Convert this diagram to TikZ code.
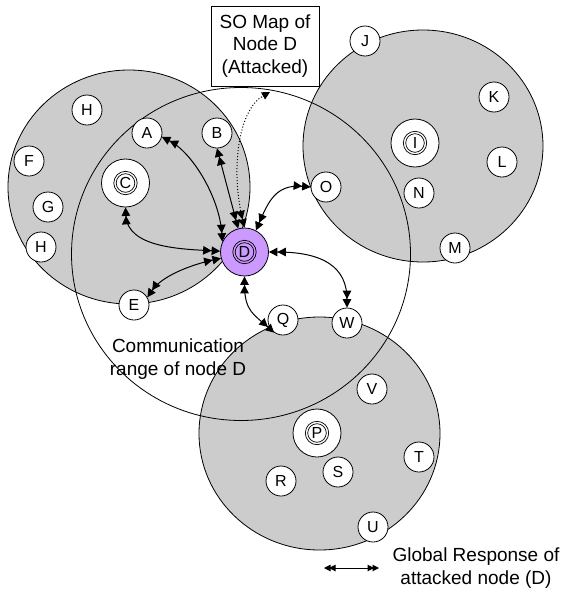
\documentclass[tikz,border=0pt]{standalone}
\usepackage{fontspec}
\setmainfont{Liberation Sans}
\usetikzlibrary{arrows.meta}
\definecolor{zone}{HTML}{CCCCCC}
\definecolor{attacked}{HTML}{CC99FF}
\tikzset{
  dtip/.tip={Triangle[length=8.5pt,width=8.5pt]Triangle[length=8.5pt,width=8.5pt]},
  stip/.tip={Triangle[length=8pt,width=8pt]},
  ltip/.tip={Triangle[length=6.5pt,width=6.5pt,sep=-1.5pt]Triangle[length=6.5pt,width=6.5pt]},
  zonecircle/.style={draw=black, line width=0.8pt, fill=zone},
  rangecircle/.style={draw=black, line width=0.8pt},
  sensor/.style={circle, draw=black, line width=0.8pt, fill=white, minimum size=30pt, inner sep=0pt, font=\fontsize{16}{16}\selectfont},
  headnode/.style={circle, draw=black, line width=0.8pt, fill=white, minimum size=48pt, inner sep=0pt, font=\fontsize{16}{16}\selectfont},
  attackednode/.style={headnode, fill=attacked},
  ring/.style={draw=black, line width=0.7pt},
  link/.style={line width=1pt, dtip-dtip},
  maplink/.style={line width=1pt, dotted, dtip-stip},
  legendlink/.style={line width=1pt, ltip-ltip},
  textlabel/.style={align=center, inner sep=0pt, font=\fontsize{19}{23}\selectfont},
  mapbox/.style={draw=black, fill=white, line width=0.8pt, minimum width=108pt, minimum height=80pt, inner sep=0pt, align=center, font=\fontsize{19}{22.5}\selectfont},
}
\begin{document}
\begin{tikzpicture}[x=1pt,y=-1pt]
\useasboundingbox (0,0) rectangle (564,592);
% zones
\path[zonecircle] (129,187) ellipse [x radius=121pt, y radius=117pt];
\path[zonecircle] (423,146) ellipse [x radius=120pt, y radius=116pt];
\path[zonecircle] (319.5,433.5) ellipse [x radius=120.5pt, y radius=116.5pt];
\path[rangecircle] (241,254) ellipse [x radius=169.5pt, y radius=166.5pt];
% nodes
\node[sensor] (h1) at (87,110) {H};
\node[sensor] (a) at (147,133) {A};
\node[sensor] (b) at (217,133) {B};
\node[sensor] (f) at (29,161) {F};
\node[sensor] (g) at (48,207) {G};
\node[sensor] (h2) at (41,247) {H};
\node[sensor] (e) at (134,305) {E};
\node[sensor] (j) at (365,41) {J};
\node[sensor] (k) at (494,97) {K};
\node[sensor] (l) at (502,162) {L};
\node[sensor] (o) at (326,187) {O};
\node[sensor] (n) at (419,193) {N};
\node[sensor] (m) at (455,248) {M};
\node[sensor] (q) at (283,320) {Q};
\node[sensor] (w) at (347,323) {W};
\node[sensor] (v) at (372,389) {V};
\node[sensor] (t) at (419,457) {T};
\node[sensor] (s) at (338,472) {S};
\node[sensor] (r) at (281,481) {R};
\node[sensor] (u) at (373,527) {U};
\node[headnode] (c) at (125.5,183) {C};
\node[headnode] (i) at (415,143) {I};
\node[headnode] (p) at (317,433) {P};
\node[attackednode] (d) at (244.5,252) {D};
\foreach \hn in {c,i,p,d}{
  \draw[ring] (\hn.center) circle [radius=11.7pt];
  \draw[ring] (\hn.center) circle [radius=9.3pt];
}
% SO map box
\node[mapbox] (somap) at (265,46) {SO Map of\\Node D\\(Attacked)};
\coordinate (soend) at (270,92);
% links
\draw[link] (a.-15) .. controls +(30,15) and +(-3,-45) .. (d.155);
\draw[link] (b.south) -- (d.105);
\draw[link] (c.south) .. controls +(2,40) and +(-40,-2) .. (d.178);
\draw[link] (e.30) .. controls +(15,-22) and +(-28,6) .. (d.195);
\draw[link] (o.west) .. controls +(-35,-3) and +(12,-28) .. (d.62);
\draw[link] (d.east) .. controls +(55,0) and +(0,-40) .. (w.north);
\draw[link] (d.south) .. controls +(0,35) and +(-20,-18) .. (q.235);
\draw[maplink] (d.north) .. controls +(-14,-58) and +(-32,18) .. (soend);
% labels
\node[textlabel] (rangelabel) at (178,359.5) {Communication\\range of node D};
\node[textlabel] (legendlabel) at (476,568.5) {Global Response of\\attacked node (D)};
\coordinate (lg1) at (324,568);
\coordinate (lg2) at (379,568);
\draw[legendlink] (lg1) -- (lg2);
\end{tikzpicture}
\end{document}
